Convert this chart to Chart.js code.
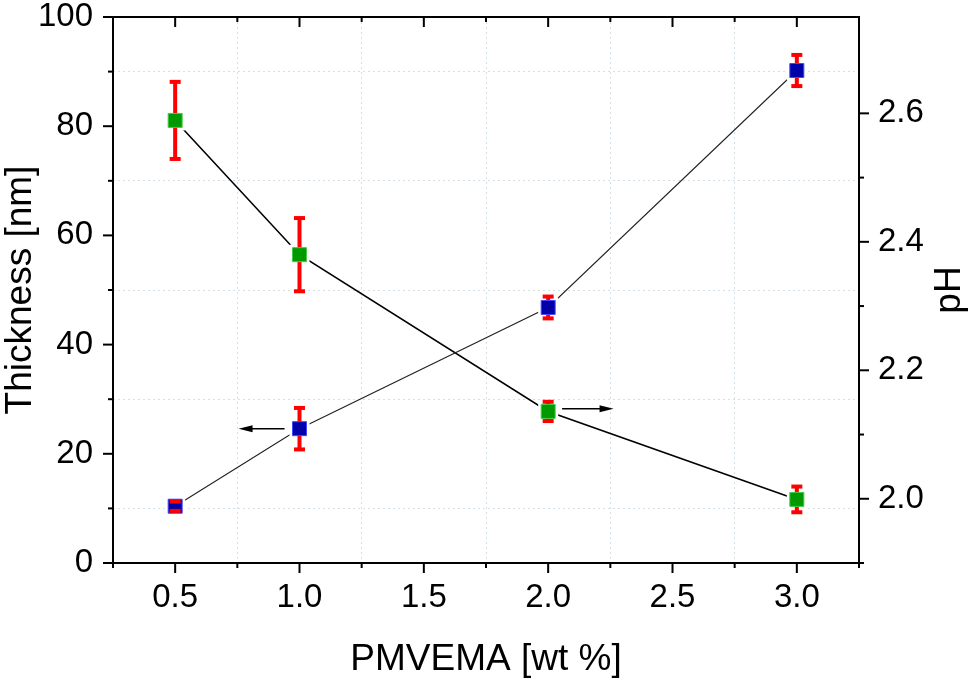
<!DOCTYPE html>
<html>
<head>
<meta charset="utf-8">
<script src="https://cdn.jsdelivr.net/npm/chart.js@4.4.1/dist/chart.umd.min.js"></script>
<style>
    html, body { margin: 0; padding: 0; background: #fff; }
</style>
</head>
<body>
<canvas id="grafico" width="971" height="681"></canvas>
<script>
// ========================
// DADOS
// ========================
const concentracao = [0.5, 1.0, 2.0, 3.0];          // PMVEMA [wt %]
const espessura = [10.4, 24.6, 46.8, 90.2];         // Thickness [nm]
const espessuraErro = [0.85, 3.8, 2.0, 2.85];
const ph = [2.589, 2.380, 2.136, 1.999];            // pH
const phErro = [0.06, 0.057, 0.015, 0.02];

const rotulosX = ['0.5', '1.0', '1.5', '2.0', '2.5', '3.0'];
const rotulosEsq = ['0', '20', '40', '60', '80', '100'];
const rotulosDir = ['2.0', '2.2', '2.4', '2.6'];

// setas indicando o eixo de cada serie
const setas = [
    { de: 0.94, ate: 0.755, valor: 24.6, eixo: 'y' },
    { de: 2.056, ate: 2.263, valor: 2.14, eixo: 'y1' }
];

const FONTE = "'Liberation Sans', Arial, sans-serif";

function pontos(xs, ys) {
    return xs.map((x, i) => ({ x: x, y: ys[i] }));
}

function multiplo(v, passo) {
    return Math.abs(v / passo - Math.round(v / passo)) < 1e-6;
}

// ========================
// PLUGIN: moldura, ticks, titulos, barras de erro, setas
// ========================
const pluginOrigin = {
    id: 'pluginOrigin',

    beforeDatasetDraw(chart, args) {
        const ds = chart.data.datasets[args.index];
        if (!ds.erros) return;
        const ctx = chart.ctx;
        const esc = chart.scales[ds.yAxisID];
        ctx.save();
        args.meta.data.forEach(p => {
            // espaco branco em volta do marcador (linha interrompida)
            ctx.fillStyle = '#fff';
            ctx.fillRect(p.x - 10, p.y - 10, 20, 20);
        });
        ctx.strokeStyle = '#ff0000';
        ctx.lineWidth = 4;
        args.meta.data.forEach((p, i) => {
            const v = ds.data[i].y;
            const yTopo = esc.getPixelForValue(v + ds.erros[i]);
            const yBase = esc.getPixelForValue(v - ds.erros[i]);
            ctx.beginPath();
            ctx.moveTo(p.x, yTopo);
            ctx.lineTo(p.x, yBase);
            ctx.stroke();
        });
        ctx.restore();
    },

    afterDatasetDraw(chart, args) {
        const ds = chart.data.datasets[args.index];
        if (!ds.erros) return;
        const ctx = chart.ctx;
        const esc = chart.scales[ds.yAxisID];
        ctx.save();
        ctx.strokeStyle = '#ff0000';
        ctx.lineWidth = 4;
        args.meta.data.forEach((p, i) => {
            const v = ds.data[i].y;
            [v + ds.erros[i], v - ds.erros[i]].forEach(e => {
                const y = esc.getPixelForValue(e);
                ctx.beginPath();
                ctx.moveTo(p.x - 5.5, y);
                ctx.lineTo(p.x + 5.5, y);
                ctx.stroke();
            });
        });
        ctx.restore();
    },

    afterDatasetsDraw(chart) {
        const ctx = chart.ctx;
        const area = chart.chartArea;
        const sx = chart.scales.x;
        const sy = chart.scales.y;
        const sy1 = chart.scales.y1;

        // setas
        ctx.save();
        ctx.strokeStyle = '#000';
        ctx.fillStyle = '#000';
        ctx.lineWidth = 1.5;
        setas.forEach(s => {
            const x0 = sx.getPixelForValue(s.de);
            const x1 = sx.getPixelForValue(s.ate);
            const y = chart.scales[s.eixo].getPixelForValue(s.valor);
            const dir = Math.sign(x1 - x0);
            ctx.beginPath();
            ctx.moveTo(x0, y);
            ctx.lineTo(x1 - dir * 12, y);
            ctx.stroke();
            ctx.beginPath();
            ctx.moveTo(x1, y);
            ctx.lineTo(x1 - dir * 14, y - 3.5);
            ctx.lineTo(x1 - dir * 14, y + 3.5);
            ctx.closePath();
            ctx.fill();
        });
        ctx.restore();

        // moldura
        ctx.save();
        ctx.strokeStyle = '#000';
        ctx.lineWidth = 2;
        ctx.strokeRect(area.left, area.top, area.right - area.left, area.bottom - area.top);

        // ticks do eixo x (baixo para fora, topo para dentro)
        sx.ticks.forEach(t => {
            if (!multiplo(t.value, 0.25)) return;
            const x = sx.getPixelForValue(t.value);
            const len = multiplo(t.value, 0.5) ? 10 : 5;
            ctx.beginPath();
            ctx.moveTo(x, area.bottom);
            ctx.lineTo(x, area.bottom + len);
            ctx.moveTo(x, area.top);
            ctx.lineTo(x, area.top + len);
            ctx.stroke();
        });
        // ticks eixo esquerdo
        sy.ticks.forEach(t => {
            if (!multiplo(t.value, 10)) return;
            const y = sy.getPixelForValue(t.value);
            const len = multiplo(t.value, 20) ? 10 : 5;
            ctx.beginPath();
            ctx.moveTo(area.left, y);
            ctx.lineTo(area.left - len, y);
            ctx.stroke();
        });
        // ticks eixo direito
        sy1.ticks.forEach(t => {
            if (!multiplo(t.value, 0.1)) return;
            const y = sy1.getPixelForValue(t.value);
            const len = multiplo(t.value, 0.2) ? 10 : 5;
            ctx.beginPath();
            ctx.moveTo(area.right, y);
            ctx.lineTo(area.right + len, y);
            ctx.stroke();
        });
        ctx.restore();

        // titulos dos eixos
        const meioY = (area.top + area.bottom) / 2;
        const meioX = (area.left + area.right) / 2;
        ctx.save();
        ctx.fillStyle = '#000';
        ctx.font = '37px ' + FONTE;
        ctx.textAlign = 'center';
        ctx.textBaseline = 'alphabetic';
        ctx.fillText('PMVEMA [wt %]', meioX, 670);

        ctx.translate(31, meioY);
        ctx.rotate(-Math.PI / 2);
        ctx.fillText('Thickness [nm]', 0, 0);
        ctx.restore();

        ctx.save();
        ctx.fillStyle = '#000';
        ctx.font = '37px ' + FONTE;
        ctx.textAlign = 'center';
        ctx.textBaseline = 'alphabetic';
        ctx.translate(960, meioY);
        ctx.rotate(-Math.PI / 2);
        ctx.fillText('pH', 0, 0);
        ctx.restore();
    }
};

// ========================
// GRAFICO
// ========================
const corGrade = 'rgba(205, 218, 228, 0.85)';

const ctx = document.getElementById('grafico').getContext('2d');

const grafico = new Chart(ctx, {
    type: 'scatter',
    data: {
        datasets: [
            {
                label: 'Thickness',
                data: pontos(concentracao, espessura),
                erros: espessuraErro,
                yAxisID: 'y',
                pointStyle: 'rect',
                pointRadius: 9.9,
                backgroundColor: '#0000a8',
                borderColor: '#4646ff',
                borderWidth: 1,
                order: 1
            },
            {
                label: 'pH',
                data: pontos(concentracao, ph),
                erros: phErro,
                yAxisID: 'y1',
                pointStyle: 'rect',
                pointRadius: 9.9,
                backgroundColor: '#009a00',
                borderColor: '#44cc44',
                borderWidth: 1,
                order: 1
            },
            {
                label: 'linha thickness',
                data: pontos(concentracao, espessura),
                yAxisID: 'y',
                showLine: true,
                pointRadius: 0,
                borderColor: '#222',
                borderWidth: 1.1,
                order: 5
            },
            {
                label: 'linha pH',
                data: pontos(concentracao, ph),
                yAxisID: 'y1',
                showLine: true,
                pointRadius: 0,
                borderColor: '#000',
                borderWidth: 1.6,
                order: 5
            }
        ]
    },
    options: {
        responsive: false,
        animation: false,
        events: [],
        layout: { padding: { top: 17, left: 0, right: 0, bottom: 0 } },
        plugins: {
            legend: { display: false },
            tooltip: { enabled: false }
        },
        scales: {
            x: {
                type: 'linear',
                position: 'bottom',
                min: 0.25,
                max: 3.25,
                afterFit: s => { s.height = 118; s.paddingLeft = 0; s.paddingRight = 0; },
                ticks: {
                    stepSize: 0.25,
                    autoSkip: false,
                    maxRotation: 0,
                    padding: 15,
                    color: '#000',
                    font: { family: FONTE, size: 33 },
                    callback: v => {
                        const t = v.toFixed(1);
                        return multiplo(v, 0.5) && rotulosX.includes(t) ? t : '';
                    }
                },
                grid: {
                    drawTicks: false,
                    lineWidth: 1,
                    color: c => (c.tick && !multiplo(c.tick.value, 0.5)) ? corGrade : 'rgba(0,0,0,0)'
                },
                border: { display: false, dash: [2, 3] }
            },
            y: {
                type: 'linear',
                position: 'left',
                min: 0,
                max: 100,
                afterFit: s => { s.width = 113; s.paddingTop = 0; s.paddingBottom = 0; },
                ticks: {
                    stepSize: 10,
                    autoSkip: false,
                    padding: 20,
                    color: '#000',
                    font: { family: FONTE, size: 33 },
                    callback: v => {
                        const t = String(Math.round(v));
                        return multiplo(v, 20) && rotulosEsq.includes(t) ? t : '';
                    }
                },
                grid: {
                    drawTicks: false,
                    lineWidth: 1,
                    color: c => (c.tick && !multiplo(c.tick.value, 20)) ? corGrade : 'rgba(0,0,0,0)'
                },
                border: { display: false, dash: [2, 3] }
            },
            y1: {
                type: 'linear',
                position: 'right',
                min: 1.9,
                max: 2.75,
                afterFit: s => { s.width = 112; s.paddingTop = 0; s.paddingBottom = 0; },
                ticks: {
                    stepSize: 0.1,
                    autoSkip: false,
                    padding: 19,
                    color: '#000',
                    font: { family: FONTE, size: 33 },
                    callback: v => {
                        const t = v.toFixed(1);
                        return multiplo(v, 0.2) && rotulosDir.includes(t) ? t : '';
                    }
                },
                grid: { drawOnChartArea: false, drawTicks: false },
                border: { display: false }
            }
        }
    },
    plugins: [pluginOrigin]
});
</script>
</body>
</html>
